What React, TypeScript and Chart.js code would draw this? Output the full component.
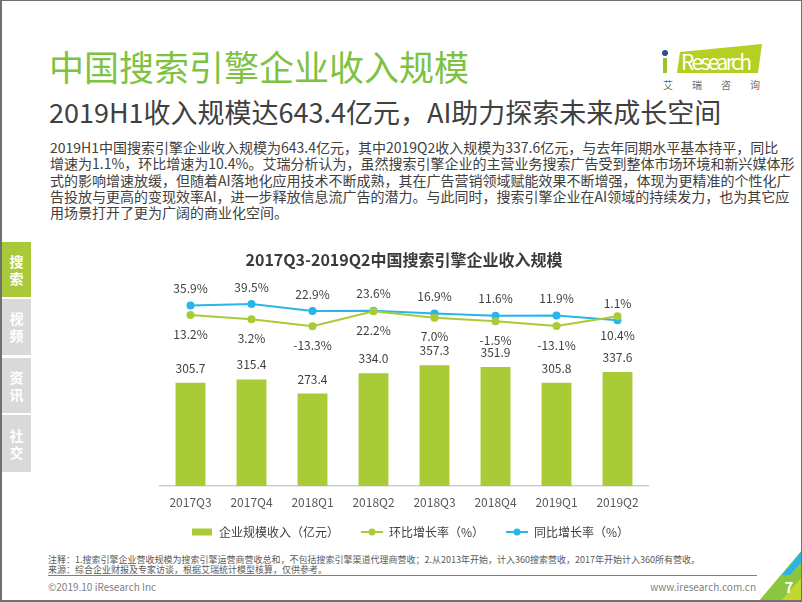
import React, { useEffect, useRef } from "react";
import { Chart, registerables } from "chart.js";

Chart.register(...registerables);

const FONT = '"Noto Sans CJK SC", "Noto Sans", sans-serif';

const categories = ["2017Q3", "2017Q4", "2018Q1", "2018Q2", "2018Q3", "2018Q4", "2019Q1", "2019Q2"];
const revenue = [305.7, 315.4, 273.4, 334.0, 357.3, 351.9, 305.8, 337.6];
const qoqGrowth = [13.2, 3.2, -13.3, 22.2, 7.0, -1.5, -13.1, 10.4];
const yoyGrowth = [35.9, 39.5, 22.9, 23.6, 16.9, 11.6, 11.9, 1.1];
const seriesNames = ["企业规模收入（亿元）", "环比增长率（%）", "同比增长率（%）"];
const chartTitle = "2017Q3-2019Q2中国搜索引擎企业收入规模";

const GREEN = "#A9CB35";
const BLUE = "#29B5E8";

const paragraphLines = [
  "2019H1中国搜索引擎企业收入规模为643.4亿元，其中2019Q2收入规模为337.6亿元，与去年同期水平基本持平，同比",
  "增速为1.1%，环比增速为10.4%。艾瑞分析认为，虽然搜索引擎企业的主营业务搜索广告受到整体市场环境和新兴媒体形",
  "式的影响增速放缓，但随着AI落地化应用技术不断成熟，其在广告营销领域赋能效果不断增强，体现为更精准的个性化广",
  "告投放与更高的变现效率AI，进一步释放信息流广告的潜力。与此同时，搜索引擎企业在AI领域的持续发力，也为其它应",
  "用场景打开了更为广阔的商业化空间。",
];

const tabs = ["搜索", "视频", "资讯", "社交"];

function makeBarIcon(color: string) {
  const c = document.createElement("canvas");
  c.width = 34;
  c.height = 10;
  const g = c.getContext("2d")!;
  g.fillStyle = color;
  g.fillRect(13, 1.5, 20, 7);
  return c;
}

function makeLineIcon(color: string) {
  const c = document.createElement("canvas");
  c.width = 34;
  c.height = 10;
  const g = c.getContext("2d")!;
  g.strokeStyle = color;
  g.lineWidth = 2;
  g.beginPath();
  g.moveTo(12, 5);
  g.lineTo(34, 5);
  g.stroke();
  g.fillStyle = color;
  g.beginPath();
  g.arc(23, 5, 3.5, 0, Math.PI * 2);
  g.fill();
  return c;
}

const valueLabelPlugin = {
  id: "valueLabels",
  afterDatasetsDraw(chart: any) {
    const ctx = chart.ctx;
    ctx.save();
    ctx.font = `12px ${FONT}`;
    ctx.fillStyle = "#404040";
    ctx.textAlign = "center";
    ctx.textBaseline = "middle";
    chart.data.datasets.forEach((ds: any, di: number) => {
      const meta = chart.getDatasetMeta(di);
      meta.data.forEach((el: any, i: number) => {
        const v = ds.data[i] as number;
        let text: string;
        let y: number;
        if (di === 0) {
          text = v.toFixed(1);
          y = el.y - 14.5;
        } else if (di === 1) {
          text = v.toFixed(1) + "%";
          y = el.y + 19;
        } else {
          text = v.toFixed(1) + "%";
          y = el.y - 17;
        }
        ctx.fillText(text, el.x, y);
      });
    });
    ctx.restore();
  },
};

function RevenueChart() {
  const ref = useRef<HTMLCanvasElement | null>(null);
  useEffect(() => {
    if (!ref.current) return;
    const icons = [makeBarIcon(GREEN), makeLineIcon(GREEN), makeLineIcon(BLUE)];
    const chart = new Chart(ref.current, {
      type: "bar",
      data: {
        labels: categories,
        datasets: [
          {
            type: "bar",
            label: seriesNames[0],
            data: revenue,
            backgroundColor: GREEN,
            borderWidth: 0,
            barPercentage: 0.49,
            categoryPercentage: 1,
            yAxisID: "y",
          },
          {
            type: "line",
            label: seriesNames[1],
            data: qoqGrowth,
            borderColor: GREEN,
            backgroundColor: GREEN,
            borderWidth: 2,
            pointRadius: 4,
            pointBorderWidth: 0,
            pointBackgroundColor: GREEN,
            yAxisID: "y2",
          },
          {
            type: "line",
            label: seriesNames[2],
            data: yoyGrowth,
            borderColor: BLUE,
            backgroundColor: BLUE,
            borderWidth: 2,
            pointRadius: 4,
            pointBorderWidth: 0,
            pointBackgroundColor: BLUE,
            yAxisID: "y2",
          },
        ],
      } as any,
      options: {
        responsive: false,
        animation: false,
        events: [],
        layout: { padding: { left: 20, right: 22, top: 0, bottom: 0 } },
        plugins: {
          tooltip: { enabled: false },
          title: {
            display: true,
            text: chartTitle,
            color: "#3a3a3a",
            font: { family: FONT, size: 16, weight: "bold" },
            padding: { top: 10, bottom: 9 },
          },
          legend: {
            position: "bottom",
            labels: {
              usePointStyle: true,
              pointStyleWidth: 34,
              padding: 10,
              color: "#404040",
              font: { family: FONT, size: 12 },
              generateLabels: (c: any) => {
                const items = (Chart.defaults.plugins.legend.labels as any).generateLabels(c);
                items.forEach((it: any, i: number) => {
                  it.pointStyle = icons[i];
                });
                return items;
              },
            },
          },
        },
        scales: {
          x: {
            grid: { display: false, drawTicks: false },
            border: { display: true, color: "#cfcfcf", width: 1.5 },
            ticks: { color: "#595959", font: { family: FONT, size: 12 }, padding: 9 },
            afterFit: (scale: any) => {
              scale.height = 30;
            },
          },
          y: { display: false, min: 0, max: 615 },
          y2: { display: false, min: -394, max: 101 },
        },
      } as any,
      plugins: [valueLabelPlugin],
    });
    return () => chart.destroy();
  }, []);
  return <canvas ref={ref} width={530} height={308} style={{ display: "block", width: 530, height: 308 }} />;
}

export default function App() {
  const abs = (s: React.CSSProperties): React.CSSProperties => ({ position: "absolute", ...s });
  return (
    <div
      style={{
        position: "absolute",
        left: 0,
        top: 0,
        width: 802,
        height: 602,
        overflow: "hidden",
        background: "#ffffff",
        fontFamily: FONT,
      }}
    >
      {/* Title */}
      <div style={abs({ left: 49, top: 46, fontSize: 35, lineHeight: "40px", color: "#7DC243", whiteSpace: "nowrap" })}>
        中国搜索引擎企业收入规模
      </div>
      <div style={abs({ left: 49, top: 96, fontSize: 27, lineHeight: "32px", color: "#404040", whiteSpace: "nowrap" })}>
        2019H1收入规模达643.4亿元，AI助力探索未来成长空间
      </div>

      {/* Logo */}
      <svg style={abs({ left: 650, top: 36, width: 120, height: 60 })} width={120} height={60}>
        <polygon points="30,16 112,8 108,37 27,37" fill="#B5CF22" />
        <rect x={13} y={22} width={4} height={15} fill="#9DC329" />
        <circle cx={15} cy={17} r={3} fill="#2A4E96" />
        <text x={31} y={34} fontSize={21} fill="#ffffff" fontFamily={FONT} textLength={71}>
          Research
        </text>
        <text x={13} y={53} fontSize={10} fill="#6b6b6b" fontFamily={FONT} textLength={97}>
          艾 瑞 咨 询
        </text>
      </svg>

      {/* Paragraph */}
      <div style={abs({ left: 50, top: 139, fontSize: 14, lineHeight: "16.3px", color: "#404040" })}>
        {paragraphLines.map((l, i) => (
          <div key={i} style={{ whiteSpace: "nowrap" }}>
            {l}
          </div>
        ))}
      </div>

      {/* Side tabs */}
      {tabs.map((t, i) => (
        <div
          key={t}
          style={abs({
            left: 2,
            top: [242, 299, 358, 415][i],
            width: 29,
            height: [55, 56, 55, 57][i],
            background: i === 0 ? "#A9C93A" : "#D9D9D9",
            color: "#ffffff",
            fontWeight: "bold",
            fontSize: 14,
            lineHeight: "17px",
            display: "flex",
            flexDirection: "column",
            alignItems: "center",
            justifyContent: "center",
          })}
        >
          <span>{t[0]}</span>
          <span>{t[1]}</span>
        </div>
      ))}

      {/* Chart */}
      <div style={abs({ left: 140, top: 240, width: 530, height: 308 })}>
        <RevenueChart />
      </div>

      {/* Footnotes */}
      <div style={abs({ left: 48, top: 555, fontSize: 9, lineHeight: "10px", color: "#595959", whiteSpace: "nowrap" })}>
        注释：1.搜索引擎企业营收规模为搜索引擎运营商营收总和，不包括搜索引擎渠道代理商营收；2.从2013年开始，计入360搜索营收，2017年开始计入360所有营收。
      </div>
      <div style={abs({ left: 48, top: 565, fontSize: 9, lineHeight: "10px", color: "#595959", whiteSpace: "nowrap" })}>
        来源：综合企业财报及专家访谈，根据艾瑞统计模型核算，仅供参考。
      </div>
      <div style={abs({ left: 48, top: 575, width: 709, height: 1, background: "#7f7f7f" })} />
      <div style={abs({ left: 48, top: 580, fontSize: 10, lineHeight: "14px", color: "#7f7f7f", whiteSpace: "nowrap" })}>
        ©2019.10 iResearch Inc
      </div>
      <div style={abs({ left: 600, width: 156, top: 580, fontSize: 10, lineHeight: "14px", color: "#7f7f7f", textAlign: "right", whiteSpace: "nowrap" })}>
        www.iresearch.com.cn
      </div>

      {/* Corner decoration */}
      <svg style={abs({ left: 752, top: 545, width: 50, height: 57 })} width={50} height={57}>
        <polygon points="6,57 50,5 50,57" fill="#8CC63F" />
        <polygon points="30,30 50,6 50,16 38,30" fill="#2AB3E6" />
        <polygon points="28,57 50,32 50,57" fill="#C3D82E" />
        <text x={37} y={48} fontSize={15} fontWeight="bold" fill="#ffffff" textAnchor="middle" fontFamily={FONT}>
          7
        </text>
      </svg>

      {/* Frame border */}
      <div
        style={abs({
          left: 0,
          top: 0,
          width: 802,
          height: 602,
          boxSizing: "border-box",
          borderTop: "1px solid #707070",
          borderBottom: "2px solid #707070",
          borderLeft: "2px solid #707070",
          borderRight: "1px solid #707070",
          pointerEvents: "none",
        })}
      />
    </div>
  );
}
